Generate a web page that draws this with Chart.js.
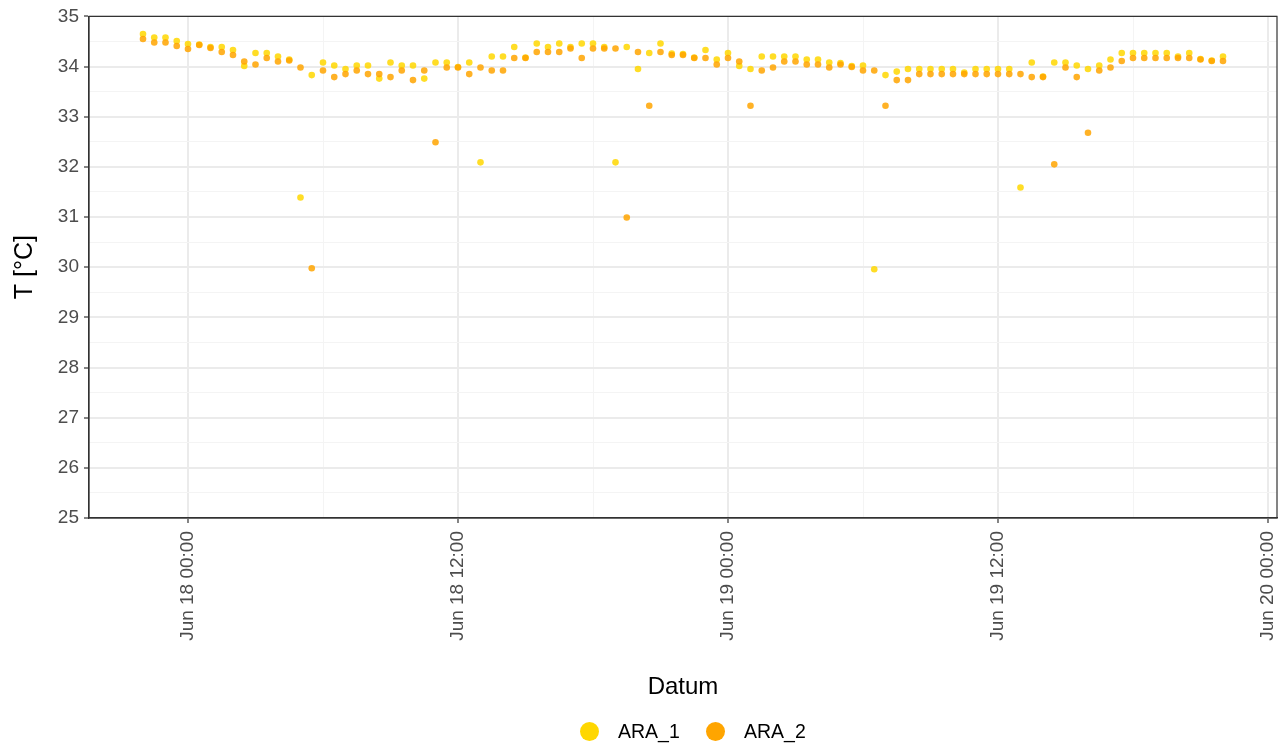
<!DOCTYPE html>
<html>
<head>
<meta charset="utf-8">
<script src="https://cdn.jsdelivr.net/npm/chart.js@4.4.1/dist/chart.umd.min.js"></script>
<style>
  html, body { margin: 0; padding: 0; background: #ffffff; }
  #wrap { position: relative; width: 1282px; height: 744px; }
  #c { position: absolute; left: 0; top: 0; }
  .leg { position: absolute; top: 719px; height: 24px; display: flex; align-items: center;
         font-family: "Liberation Sans", Arial, sans-serif; font-size: 19.5px; color: #000; }
  .dot { width: 19px; height: 19px; border-radius: 50%; margin-right: 19px; }
</style>
</head>
<body>
<div id="wrap">
  <canvas id="c" width="1282" height="744"></canvas>
  <div class="leg" style="left:580px"><span class="dot" style="background:#FFD700"></span><span>ARA_1</span></div>
  <div class="leg" style="left:706px"><span class="dot" style="background:#FFA500"></span><span>ARA_2</span></div>
</div>
<script>
// Hours after Jun 18 00:00 (30-minute readings)
const hours = [-2,-1.5,-1,-0.5,0,0.5,1,1.5,2,2.5,3,3.5,4,4.5,5,5.5,6,6.5,7,7.5,8,8.5,9,9.5,10,10.5,11,11.5,12,12.5,13,13.5,14,14.5,15,15.5,16,16.5,17,17.5,18,18.5,19,19.5,20,20.5,21,21.5,22,22.5,23,23.5,24,24.5,25,25.5,26,26.5,27,27.5,28,28.5,29,29.5,30,30.5,31,31.5,32,32.5,33,33.5,34,34.5,35,35.5,36,36.5,37,37.5,38,38.5,39,39.5,40,40.5,41,41.5,42,42.5,43,43.5,44,44.5,45,45.5,46];

const ara1 = [34.65,34.58,34.58,34.51,34.45,34.44,34.39,34.39,34.33,34.01,
              34.27,34.27,34.20,34.14,31.39,33.83,34.08,34.02,33.95,34.02,
              34.02,33.76,34.08,34.02,34.02,33.76,34.08,34.08,33.99,34.08,
              32.09,34.20,34.20,34.39,34.18,34.46,34.39,34.46,34.39,34.46,
              34.46,34.39,32.09,34.39,33.95,34.27,34.46,34.26,34.25,34.18,
              34.33,34.14,34.27,34.01,33.95,34.20,34.20,34.20,34.20,34.14,
              34.14,34.08,34.07,34.01,34.02,29.96,33.83,33.90,33.95,33.95,
              33.95,33.95,33.95,33.88,33.95,33.95,33.95,33.95,31.59,34.08,
              33.80,34.08,34.08,34.02,33.95,34.02,34.14,34.27,34.27,34.27,
              34.27,34.27,34.20,34.27,34.15,34.12,34.20];

const ara2 = [34.55,34.48,34.48,34.41,34.35,34.43,34.37,34.29,34.23,34.10,
              34.04,34.17,34.10,34.12,33.98,29.98,33.92,33.79,33.85,33.92,
              33.85,33.85,33.79,33.92,33.73,33.92,32.49,33.98,33.98,33.85,
              33.98,33.92,33.92,34.17,34.17,34.29,34.29,34.29,34.36,34.17,
              34.36,34.36,34.36,30.99,34.29,33.22,34.29,34.23,34.23,34.17,
              34.17,34.04,34.17,34.10,33.22,33.92,33.98,34.10,34.10,34.04,
              34.04,33.98,34.04,33.99,33.92,33.92,33.22,33.73,33.73,33.85,
              33.85,33.85,33.85,33.85,33.85,33.85,33.85,33.85,33.85,33.79,
              33.79,32.05,33.98,33.79,32.68,33.92,33.98,34.11,34.17,34.17,
              34.17,34.17,34.17,34.17,34.14,34.11,34.11];

const seriesNames = ['ARA_1', 'ARA_2'];
const xTickHours = [0, 6, 12, 18, 24, 30, 36, 42, 48];
const xLabelHours = [0, 12, 24, 36, 48];
const yTickValues = [25,25.5,26,26.5,27,27.5,28,28.5,29,29.5,30,30.5,31,31.5,32,32.5,33,33.5,34,34.5,35];

function fmtHour(h) {
  const day = 18 + Math.floor(h / 24);
  const hh = ((h % 24) + 24) % 24;
  return 'Jun ' + day + ' ' + String(hh).padStart(2, '0') + ':00';
}

const FONT = '"Liberation Sans", Arial, sans-serif';
const MAJOR = '#ebebeb', MINOR = '#f4f4f4', AXIS = '#333333';

const borderPlugin = {
  id: 'panelBorder',
  afterDatasetsDraw(chart) {
    const {ctx, chartArea: a} = chart;
    ctx.save();
    ctx.strokeStyle = AXIS;
    ctx.lineWidth = 1.2;
    ctx.strokeRect(a.left, a.top, a.right - a.left, a.bottom - a.top);
    ctx.restore();
  }
};

new Chart(document.getElementById('c'), {
  type: 'scatter',
  data: {
    datasets: [
      { label: seriesNames[0], data: hours.map((h, i) => ({x: h, y: ara1[i]})),
        backgroundColor: 'rgba(255,215,0,0.85)', borderWidth: 0, pointRadius: 3.3, order: 1 },
      { label: seriesNames[1], data: hours.map((h, i) => ({x: h, y: ara2[i]})),
        backgroundColor: 'rgba(255,165,0,0.85)', borderWidth: 0, pointRadius: 3.3, order: 0 }
    ]
  },
  options: {
    responsive: false,
    animation: false,
    devicePixelRatio: 1,
    layout: { padding: { left: 0, right: 5, top: 16, bottom: 0 } },
    plugins: { legend: { display: false }, tooltip: { enabled: false } },
    scales: {
      x: {
        type: 'linear',
        min: -4.4, max: 48.4,
        afterBuildTicks: (s) => { s.ticks = xTickHours.map(v => ({value: v})); },
        afterFit: (s) => { s.height = 226; s.paddingLeft = 0; s.paddingRight = 0; },
        grid: {
          color: (c) => (c.tick && c.tick.value % 12 === 0) ? MAJOR : MINOR,
          lineWidth: (c) => (c.tick && c.tick.value % 12 === 0) ? 2 : 1,
          tickColor: (c) => (c.tick && c.tick.value % 12 === 0) ? AXIS : 'rgba(0,0,0,0)',
          tickLength: 5,
          tickWidth: 1.2
        },
        border: { display: true, color: AXIS, width: 1.2 },
        ticks: {
          autoSkip: false,
          minRotation: 90, maxRotation: 90,
          padding: 8,
          color: '#4d4d4d',
          font: { family: FONT, size: 19 },
          callback: (v) => xLabelHours.includes(v) ? fmtHour(v) : ''
        },
        title: { display: true, text: 'Datum', color: '#000', font: { family: FONT, size: 24 },
                 padding: { top: 0, bottom: 42 } }
      },
      y: {
        min: 25, max: 35,
        afterBuildTicks: (s) => { s.ticks = yTickValues.map(v => ({value: v})); },
        afterFit: (s) => { s.width = 89; },
        grid: {
          color: (c) => (c.tick && Number.isInteger(c.tick.value)) ? MAJOR : MINOR,
          lineWidth: (c) => (c.tick && Number.isInteger(c.tick.value)) ? 2 : 1,
          tickColor: (c) => (c.tick && Number.isInteger(c.tick.value)) ? AXIS : 'rgba(0,0,0,0)',
          tickLength: 5,
          tickWidth: 1.2
        },
        border: { display: true, color: AXIS, width: 1.2 },
        ticks: {
          autoSkip: false,
          padding: 5,
          color: '#4d4d4d',
          font: { family: FONT, size: 19 },
          callback: (v) => Number.isInteger(v) ? String(v) : ''
        },
        title: { display: true, text: 'T [°C]', color: '#000', font: { family: FONT, size: 25 },
                 padding: { top: 10, bottom: 0 } }
      }
    }
  },
  plugins: [borderPlugin]
});
</script>
</body>
</html>
